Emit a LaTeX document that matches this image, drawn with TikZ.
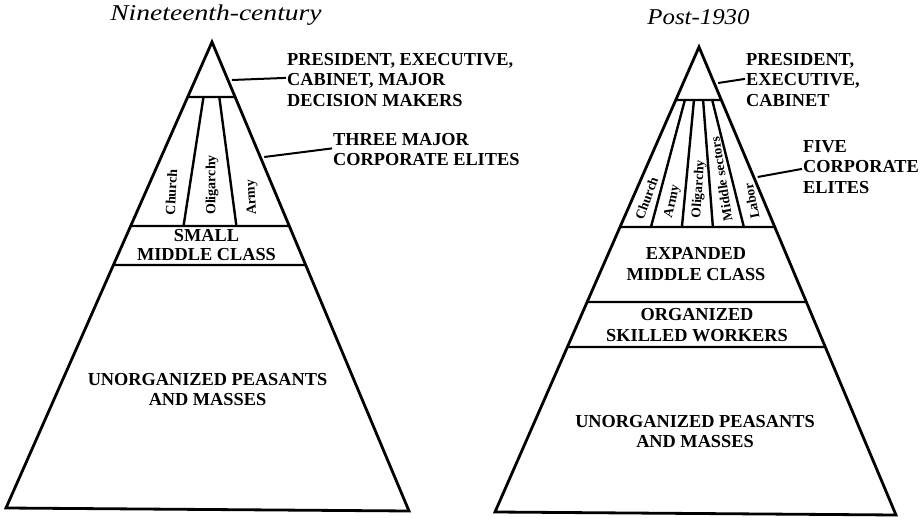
\documentclass[tikz,border=0pt]{standalone}
\usepackage{fontspec}
\setmainfont{Liberation Serif}
\usetikzlibrary{calc}
\tikzset{
  outline/.style={line width=2.8pt, line join=miter},
  layer/.style={line width=2.4pt},
  leader/.style={line width=2pt},
  caps/.style={font=\fontsize{18.3}{20.5}\selectfont\bfseries, inner sep=0pt},
  capstight/.style={font=\fontsize{18.3}{18.5}\selectfont\bfseries, inner sep=0pt},
  elite/.style={font=\fontsize{14}{15}\selectfont\bfseries, inner sep=0pt, anchor=west},
  eliteR/.style={font=\fontsize{13.5}{15}\selectfont\bfseries, inner sep=0pt, anchor=west},
  title/.style={font=\fontsize{22.6}{26}\selectfont\itshape, inner sep=0pt, anchor=base}
}
\begin{document}
\begin{tikzpicture}[x=1pt,y=-1pt]
\useasboundingbox (0,0) rectangle (924,518);
% ---------- left pyramid ----------
\coordinate (LA) at (212,42);
\coordinate (LL) at (6,508);
\coordinate (LR) at (409,511);
\coordinate (L1l) at ($(LA)!55/466!(LL)$);
\coordinate (L1r) at ($(LA)!55/469!(LR)$);
\coordinate (L2l) at ($(LA)!184/466!(LL)$);
\coordinate (L2r) at ($(LA)!184/469!(LR)$);
\coordinate (L3l) at ($(LA)!223/466!(LL)$);
\coordinate (L3r) at ($(LA)!223/469!(LR)$);
\draw[layer] (L1l) -- (L1r);
\draw[layer] (L2l) -- (L2r);
\draw[layer] (L3l) -- (L3r);
\draw[layer] ($(L1l)!1/3!(L1r)$) -- ($(L2l)!1/3!(L2r)$);
\draw[layer] ($(L1l)!2/3!(L1r)$) -- ($(L2l)!2/3!(L2r)$);
\draw[outline] (LA) -- (LL) -- (LR) -- cycle;

\node[title] (t1) at (216,21) {\scalebox{1.22}[1]{Nineteenth-century}};
\node[caps, align=left, anchor=north west] (lp) at (287,52.9) {PRESIDENT, EXECUTIVE,\\CABINET, MAJOR\\DECISION MAKERS};
\coordinate (lpe) at ($(LA)!38/469!(LR)+(4,0)$);
\draw[leader] (lpe) -- ($(lp.north west)+(-1,25)$);
\node[caps, align=left, anchor=north west] (le) at (333,132.9) {THREE MAJOR\\CORPORATE ELITES};
\coordinate (lee) at ($(LA)!115/469!(LR)+(4,0)$);
\draw[leader] (lee) -- ($(le.north west)+(-1,15.5)$);
\node[elite, rotate=87] (lc) at (170,215) {Church};
\node[elite, rotate=90] (lo) at (212,215) {Oligarchy};
\node[elite, rotate=93] (la) at (253,215) {Army};
\node[capstight, align=center, anchor=north] (lm) at (206.5,229.4) {SMALL\\MIDDLE CLASS};
\node[caps, align=center, anchor=north] (lu) at (207.5,372.9) {UNORGANIZED PEASANTS\\AND MASSES};

% ---------- right pyramid ----------
\coordinate (RA) at (699,47);
\coordinate (RL) at (495,512);
\coordinate (RR) at (896,515);
\coordinate (R1l) at ($(RA)!53/465!(RL)$);
\coordinate (R1r) at ($(RA)!53/468!(RR)$);
\coordinate (R2l) at ($(RA)!180/465!(RL)$);
\coordinate (R2r) at ($(RA)!180/468!(RR)$);
\coordinate (R3l) at ($(RA)!255/465!(RL)$);
\coordinate (R3r) at ($(RA)!255/468!(RR)$);
\coordinate (R4l) at ($(RA)!300/465!(RL)$);
\coordinate (R4r) at ($(RA)!300/468!(RR)$);
\draw[layer] (R1l) -- (R1r);
\draw[layer] (R2l) -- (R2r);
\draw[layer] (R3l) -- (R3r);
\draw[layer] (R4l) -- (R4r);
\foreach \f in {0.2,0.4,0.6,0.8}
  \draw[layer] ($(R1l)!\f!(R1r)$) -- ($(R2l)!\f!(R2r)$);
\draw[outline] (RA) -- (RL) -- (RR) -- cycle;

\node[title] (t2) at (698.5,25) {\scalebox{1.1}[1]{Post-1930}};
\node[caps, align=left, anchor=north west] (rp) at (746,52.9) {PRESIDENT,\\EXECUTIVE,\\CABINET};
\coordinate (rpe) at ($(RA)!36/468!(RR)+(4,0)$);
\draw[leader] (rpe) -- ($(rp.north west)+(-1,26)$);
\node[caps, align=left, anchor=north west] (re) at (803,139.9) {FIVE\\CORPORATE\\ELITES};
\coordinate (ree) at ($(RA)!130/468!(RR)+(4,0)$);
\draw[leader] (ree) -- ($(re.north west)+(-1,29)$);
\node[eliteR, rotate=70] (rc) at (639,219) {Church};
\node[eliteR, rotate=78] (ra) at (669,218) {Army};
\node[eliteR, rotate=86] (ro) at (697,218) {Oligarchy};
\node[eliteR, rotate=99] (rs) at (728,221) {Middle sectors};
\node[eliteR, rotate=101] (rb) at (755,219) {Labor};
\node[caps, align=center, anchor=north] (rm) at (696,247.4) {EXPANDED\\MIDDLE CLASS};
\node[font=\fontsize{18.3}{21.5}\selectfont\bfseries, inner sep=0pt, align=center, anchor=north] (rw) at (697,307.9) {ORGANIZED\\SKILLED WORKERS};
\node[caps, align=center, anchor=north] (ru) at (695,414.9) {UNORGANIZED PEASANTS\\AND MASSES};
\end{tikzpicture}
\end{document}
